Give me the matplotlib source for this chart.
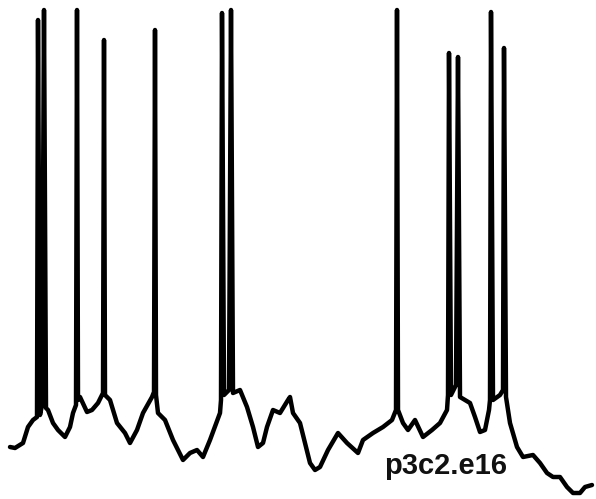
import matplotlib
matplotlib.use("Agg")
import matplotlib.pyplot as plt

# Membrane-potential trace (time, depth from top in figure units)
time = [10, 15, 23, 28, 33, 37, 38, 40, 42, 44, 46, 48, 53, 58, 65, 70, 73, 76, 77, 78,
        80, 87, 92, 98, 103, 104, 105, 110, 117, 125, 130, 137, 143, 152, 154, 155, 156,
        158, 165, 173, 183, 190, 197, 203, 210, 220, 221, 222, 224, 229, 231, 233, 240,
        247, 253, 258, 263, 267, 273, 280, 288, 290, 293, 300, 310, 315, 320, 328, 338,
        347, 358, 363, 373, 383, 392, 396, 397, 398, 403, 408, 415, 423, 432, 440, 447,
        448, 449, 451, 456, 458, 460, 470, 475, 480, 485, 489, 490, 491, 493, 500, 503,
        504, 506, 510, 517, 523, 533, 540, 547, 553, 560, 567, 573, 580, 585, 592]
level = [447, 448, 443, 427, 420, 417, 20, 415, 405, 10, 408, 410, 423, 430, 437, 427, 413,
         405, 10, 400, 397, 412, 410, 403, 393, 40, 395, 400, 423, 433, 443, 430, 413, 397,
         392, 30, 395, 413, 420, 440, 460, 453, 450, 457, 440, 413, 400, 13, 395, 390, 10,
         393, 390, 407, 427, 447, 443, 427, 410, 413, 400, 397, 413, 423, 463, 470, 467,
         450, 433, 443, 453, 440, 433, 427, 420, 410, 10, 410, 423, 430, 420, 437, 430,
         423, 410, 395, 53, 395, 385, 57, 397, 403, 417, 432, 430, 410, 400, 12, 400, 395,
         390, 48, 397, 423, 447, 457, 455, 463, 473, 477, 477, 487, 493, 493, 487, 485]

label = "p3c2.e16"

fig = plt.figure(figsize=(5.96, 4.99), dpi=100)
ax = fig.add_axes([0, 0, 1, 1])
ax.plot(time, level, color="black", lw=3.2, solid_joinstyle="round", solid_capstyle="round")
ax.set_xlim(0, 596)
ax.set_ylim(499, 0)
ax.axis("off")
ax.text(446, 466, label, ha="center", va="center", fontsize=21, fontweight="bold",
        family="Liberation Sans", color="#111111")
fig.savefig("out.png", dpi=100)
